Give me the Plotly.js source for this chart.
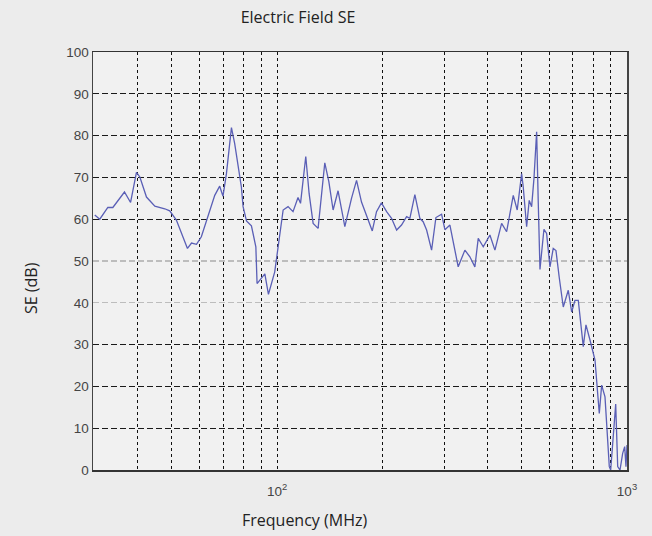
<!DOCTYPE html>
<html>
<head>
<meta charset="utf-8">
<script src="https://cdn.plot.ly/plotly-3.0.1.min.js"></script>
<style>html,body{margin:0;padding:0;background:#ececec;}#chart{width:652px;height:536px;}</style>
</head>
<body>
<div id="chart"></div>
<script>
// Frequency (MHz) and shielding effectiveness (dB)
const freqMHz = [30.1, 31.1, 32.8, 33.9, 36.6, 38.1, 39.6, 40.5, 42.3, 44.7, 47.7, 49.3, 51.5, 55.4, 56.9, 58.8,
  60.7, 63.4, 66.3, 68.5, 70.0, 71.6, 74.0, 75.6, 79.0, 79.9, 81.7, 84.4, 86.9, 87.6, 89.8, 92.2, 94.4, 98.4,
  104, 107.4, 111, 114.7, 116.6, 120.7, 123.4, 126.7, 130.9, 136.8, 140.5, 144.5, 149.3, 156.1, 163.1, 168.6,
  174.2, 180.1, 187, 192.3, 198.6, 205.5, 212.3, 219.5, 226.7, 234.4, 239.5, 247.5, 255.8, 261.4, 267.4, 276.3,
  284.3, 295.1, 301.6, 311.7, 329.2, 344, 355.5, 367.4, 375.6, 388.2, 405.6, 419.2, 438.1, 452.8, 473, 485.5,
  499.8, 505.1, 516.5, 525.4, 533.8, 542, 551.7, 557.6, 563.9, 578.9, 589.2, 591.6, 602.3, 615.4, 626.5, 640.3,
  650.4, 657.4, 679.4, 694.7, 710, 725.6, 749.9, 763.3, 783.8, 810, 833.3, 846.4, 865.2, 890, 898.2, 913.7,
  928.3, 940.6, 955, 971.9, 984.9, 993.3, 1000];
const seDb = [61, 60, 62.8, 62.8, 66.5, 64, 71.2, 70.1, 65.3, 63.1, 62.5, 62, 59.8, 53, 54.3, 54,
  55.8, 60.7, 65.7, 67.9, 65.5, 70.9, 81.9, 78.1, 67.7, 63, 59.6, 58.4, 53.4, 44.6, 45.6, 46.9, 42, 47.4,
  62.2, 63, 61.8, 65.2, 63.8, 75, 66.1, 59, 57.8, 73.5, 69, 62.2, 66.8, 58.2, 65, 69.3,
  64.1, 61, 57.2, 61.8, 63.9, 61.8, 60.2, 57.4, 58.6, 60.6, 60.2, 65.9, 60.2, 59.4, 57.4, 52.6,
  60.4, 61.2, 57.5, 58.6, 48.6, 52.6, 51, 48.6, 55.4, 53.4, 56.2, 52.6, 59, 57, 65.7, 62.2,
  70.9, 67.7, 58.2, 64.5, 63, 69.7, 80.9, 64, 48, 57.6, 56.6, 55, 48.6, 53, 52.5, 46,
  41.5, 39, 43, 37.8, 40.6, 40.6, 29.5, 34.7, 31.1, 26.3, 13.5, 20.3, 17.5, 0.8, 0, 8.8,
  15.8, 0.8, 0, 4, 5.6, 0.8, 6];

const yTicks = [0, 10, 20, 30, 40, 50, 60, 70, 80, 90, 100];
const yDarkGrid = [10, 20, 30, 60, 70, 80, 90];
const yLightGrid = [40, 50];
const xTickVals = [100, 1000];
const xTickText = ['10<sup>2</sup>', '10<sup>3</sup>'];
const xGrid = [40, 50, 60, 70, 80, 90, 100, 200, 300, 400, 500, 600, 700, 800, 900];

const traces = [
  {x: freqMHz, y: seDb, type: 'scatter', mode: 'lines',
   line: {color: '#5a5fb6', width: 1.3}, showlegend: false, hoverinfo: 'x+y'},
  {x: [], y: [], type: 'scatter', mode: 'lines', yaxis: 'y2', showlegend: false, hoverinfo: 'skip'}
];

const tickFont = {family: 'Liberation Sans, Arial, sans-serif', size: 13.5, color: '#444'};
const textFont = {family: 'Open Sans, sans-serif', size: 16, color: '#222'};
const layout = {
  width: 652, height: 536,
  margin: {l: 93, r: 25, t: 52, b: 66},
  paper_bgcolor: '#ececec',
  plot_bgcolor: '#f1f1f1',
  title: {text: 'Electric Field SE', x: 298 / 652, xref: 'container', xanchor: 'center',
          y: 1 - 17 / 536, yref: 'container', yanchor: 'middle', font: textFont},
  xaxis: {
    type: 'log', range: [Math.log10(29.75), 3],
    tickmode: 'array', tickvals: xTickVals, ticktext: xTickText,
    tickfont: tickFont, ticks: '', ticklabelstandoff: 8, showgrid: false, zeroline: false,
    showline: true, linecolor: '#333', linewidth: 1.5, mirror: true,
    minor: {tickmode: 'array', tickvals: xGrid, showgrid: true, gridcolor: '#111',
            griddash: '3px,3px', gridwidth: 1, ticks: ''}
  },
  yaxis: {
    range: [0, 100], tickmode: 'array', tickvals: yTicks,
    tickfont: tickFont, ticks: '', showgrid: false, zeroline: false,
    showline: true, linecolor: '#444', linewidth: 1.5, mirror: true,
    minor: {tickmode: 'array', tickvals: yDarkGrid, showgrid: true, gridcolor: '#1a1a1a',
            griddash: '6px,3px', gridwidth: 1.3, ticks: ''}
  },
  yaxis2: {
    overlaying: 'y', range: [0, 100], tickmode: 'array', tickvals: yLightGrid,
    showticklabels: false, ticks: '', showgrid: true, gridcolor: '#bdbdbd',
    griddash: '6px,3px', gridwidth: 1.2, zeroline: false, showline: false
  },
  annotations: [
    {text: 'Frequency (MHz)', xref: 'paper', yref: 'paper', x: (304 - 93) / 534, y: -(520 - 470) / 418,
     xanchor: 'center', yanchor: 'middle', showarrow: false, font: textFont},
    {text: 'SE (dB)', xref: 'paper', yref: 'paper', x: -(93 - 31) / 534, y: (470 - 288) / 418,
     xanchor: 'center', yanchor: 'middle', textangle: -90, showarrow: false, font: textFont}
  ]
};

Plotly.newPlot('chart', traces, layout, {displayModeBar: false, staticPlot: true});
</script>
</body>
</html>
